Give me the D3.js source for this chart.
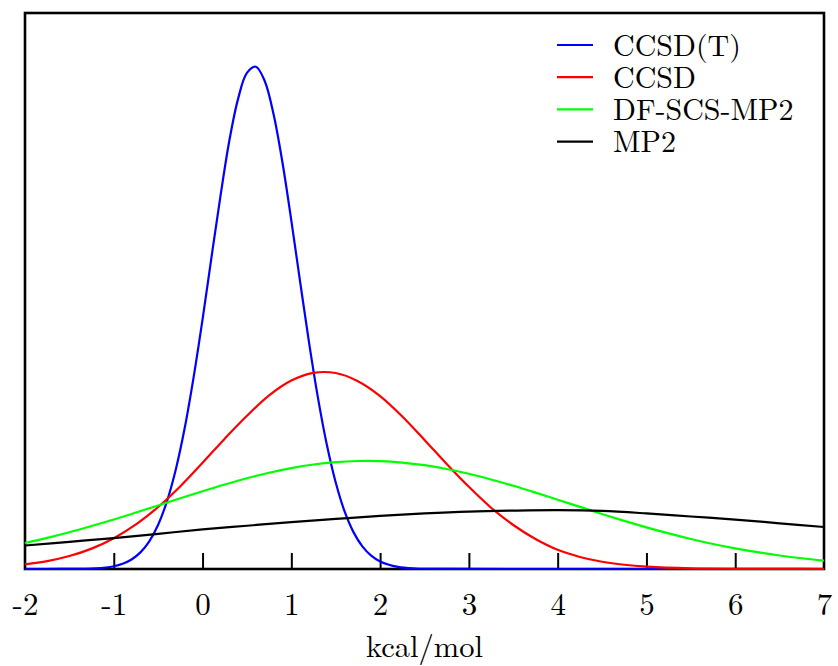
<!DOCTYPE html>
<html>
<head>
<meta charset="utf-8">
<script src="https://cdn.jsdelivr.net/npm/d3@7/dist/d3.min.js"></script>
<style>
  html, body { margin: 0; padding: 0; background: #fff; }
</style>
</head>
<body>
<svg id="chart" width="838" height="666"></svg>
<script>
// ---- data (density vs kcal/mol) ----
const xTicks = [-2, -1, 0, 1, 2, 3, 4, 5, 6, 7];
const xTickLabels = ["-2", "-1", "0", "1", "2", "3", "4", "5", "6", "7"];
const xLabel = "kcal/mol";
const seriesNames = ["CCSD(T)", "CCSD", "DF-SCS-MP2", "MP2"];
const seriesColors = ["#0000ff", "#ff0000", "#00ff00", "#000000"];

const ccsdtX = [-2, -1.6, -1.2, -1.0, -0.9, -0.8, -0.7, -0.6, -0.5, -0.4, -0.3, -0.2, -0.1, 0.0, 0.1, 0.2, 0.3, 0.4, 0.5, 0.6, 0.7, 0.8, 0.9, 1.0, 1.1, 1.2, 1.3, 1.4, 1.5, 1.6, 1.7, 1.8, 1.9, 2.0, 2.2, 2.4, 2.8, 3.5, 5, 7];
const ccsdtY = [0, 0.0001, 0.0011, 0.0045, 0.0085, 0.0154, 0.0269, 0.0448, 0.0717, 0.110, 0.162, 0.229, 0.311, 0.404, 0.504, 0.602, 0.692, 0.761, 0.803, 0.813, 0.790, 0.736, 0.658, 0.564, 0.464, 0.366, 0.277, 0.201, 0.140, 0.0932, 0.0597, 0.0367, 0.0216, 0.0122, 0.0034, 0.0008, 0.0001, 0, 0, 0];

const ccsdX = [-2, -1.75, -1.5, -1.25, -1.0, -0.75, -0.5, -0.25, 0.0, 0.25, 0.5, 0.75, 1.0, 1.25, 1.5, 1.75, 2.0, 2.25, 2.5, 2.75, 3.0, 3.25, 3.5, 3.75, 4.0, 4.25, 4.5, 4.75, 5.0, 5.5, 6.0, 6.5, 7.0];
const ccsdY = [0.0075, 0.0128, 0.0210, 0.0330, 0.0499, 0.0722, 0.1004, 0.134, 0.172, 0.211, 0.248, 0.281, 0.305, 0.3175, 0.3172, 0.304, 0.280, 0.247, 0.209, 0.170, 0.133, 0.0992, 0.0712, 0.0485, 0.031, 0.0195, 0.0118, 0.0069, 0.0039, 0.0011, 0.0003, 0.0001, 0];

const scsX = [-2, -1.75, -1.5, -1.25, -1.0, -0.75, -0.5, -0.25, 0.0, 0.25, 0.5, 0.75, 1.0, 1.25, 1.5, 1.75, 2.0, 2.25, 2.5, 2.75, 3.0, 3.25, 3.5, 3.75, 4.0, 4.25, 4.5, 4.75, 5.0, 5.25, 5.5, 5.75, 6.0, 6.25, 6.5, 6.75, 7.0];
const scsY = [0.0421, 0.0503, 0.0594, 0.0695, 0.0801, 0.0914, 0.1029, 0.1145, 0.1259, 0.1368, 0.1469, 0.1558, 0.1633, 0.1691, 0.1730, 0.1748, 0.1746, 0.1723, 0.1680, 0.1619, 0.1541, 0.1449, 0.1347, 0.1237, 0.1122, 0.1006, 0.0891, 0.0779, 0.0674, 0.0576, 0.0486, 0.0405, 0.0334, 0.0272, 0.0219, 0.0174, 0.0136];

const mp2X = [-2, -1.5, -1, -0.5, 0, 0.5, 1, 1.5, 2, 2.5, 3, 3.5, 4, 4.5, 5, 5.5, 6, 6.5, 7];
const mp2Y = [0.038, 0.044, 0.050, 0.057, 0.064, 0.070, 0.076, 0.081, 0.086, 0.090, 0.093, 0.0945, 0.0952, 0.094, 0.090, 0.085, 0.080, 0.074, 0.068];

const seriesX = [ccsdtX, ccsdX, scsX, mp2X];
const seriesY = [ccsdtY, ccsdY, scsY, mp2Y];

// ---- layout ----
const FONT = '"Latin Modern Roman"';
const svg = d3.select("#chart");
const plotLeft = 25, plotRight = 824, plotTop = 13, plotBottom = 569;

const x = d3.scaleLinear().domain([-2, 7]).range([plotLeft, plotRight]);
const y = d3.scaleLinear().domain([0, 0.9]).range([plotBottom, plotTop]);

// frame
svg.append("rect")
  .attr("x", plotLeft).attr("y", plotTop)
  .attr("width", plotRight - plotLeft).attr("height", plotBottom - plotTop)
  .attr("fill", "none").attr("stroke", "#000").attr("stroke-width", 2.6);

// bottom axis with inward ticks
const axis = d3.axisBottom(x).tickValues(xTicks).tickSize(-16).tickPadding(0)
  .tickFormat((d, i) => xTickLabels[i]);
const gAxis = svg.append("g").attr("transform", `translate(0,${plotBottom})`).call(axis);
gAxis.select(".domain").remove();
gAxis.selectAll(".tick line").attr("stroke", "#000").attr("stroke-width", 2);
gAxis.selectAll(".tick").filter(d => d === -2 || d === 7).select("line").remove();
gAxis.selectAll(".tick text")
  .attr("y", 46).attr("dy", 0)
  .style("font-family", FONT)
  .style("font-size", "31px")
  .attr("fill", "#000");

// axis label
svg.append("text")
  .attr("x", (plotLeft + plotRight) / 2).attr("y", 657)
  .attr("text-anchor", "middle")
  .style("font-family", FONT)
  .style("font-size", "30.5px")
  .text(xLabel);

// curves
const line = d3.line().x(d => x(d[0])).y(d => y(d[1])).curve(d3.curveCatmullRom.alpha(0.5));
seriesNames.forEach((name, i) => {
  const pts = seriesX[i].map((v, j) => [v, seriesY[i][j]]);
  svg.append("path")
    .datum(pts)
    .attr("d", line)
    .attr("fill", "none")
    .attr("stroke", seriesColors[i])
    .attr("stroke-width", 2.2);
});

// legend
const legend = svg.append("g");
seriesNames.forEach((name, i) => {
  const ly = 45 + i * 32.2;
  legend.append("line")
    .attr("x1", 557).attr("x2", 593)
    .attr("y1", ly).attr("y2", ly)
    .attr("stroke", seriesColors[i]).attr("stroke-width", 2.2);
  legend.append("text")
    .attr("x", 613).attr("y", ly + 10.5)
    .style("font-family", FONT)
    .style("font-size", "30px")
    .text(name);
});
</script>
</body>
</html>
